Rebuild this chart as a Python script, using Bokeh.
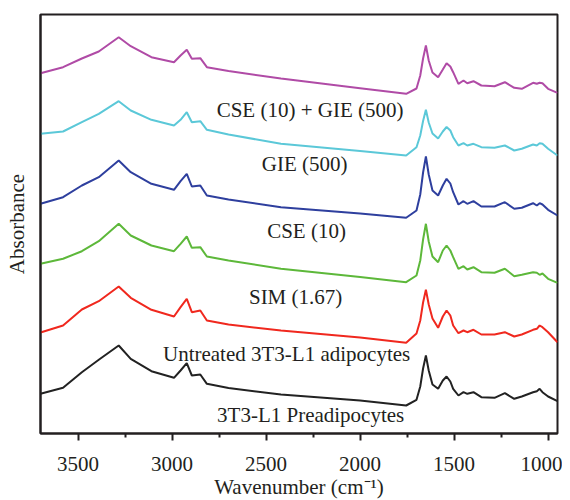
from bokeh.plotting import figure
from bokeh.models import Range1d, FixedTicker, ColumnDataSource
from bokeh.core.properties import value
from bokeh.embed import file_html
from bokeh.resources import INLINE

# Wavenumber grid (cm^-1)
wavenumber = [3700, 3580, 3480, 3390, 3284, 3220, 3110, 2990, 2955, 2922, 2895, 2850, 2815,
              2700, 2421, 2000, 1755, 1700, 1680, 1665, 1650, 1635, 1615, 1585, 1560, 1540,
              1520, 1505, 1477, 1450, 1430, 1397, 1355, 1285, 1230, 1180, 1140, 1080, 1060,
              1045, 1030, 1000, 950]

# Stacked absorbance traces (arbitrary units, offset)
cse_gie = [360.3, 366.3, 375, 382, 396.3, 387.3, 376.3, 371.3, 378, 383.7, 374.7, 375.3, 366.3,
           362.5, 355, 345.3, 339.7, 345, 358, 375, 388, 373, 361, 356.3, 364, 370.3,
           367, 361.3, 349.7, 353, 350.3, 352.3, 348, 347.3, 351.3, 345.7, 344.7, 350.7, 349.7,
           350.7, 350.3, 344.7, 340.7]
gie = [299.7, 302, 311.3, 319.7, 332.3, 323, 313.7, 308, 313.7, 321.3, 311.3, 312.3, 303.7,
       299, 289.7, 282.5, 278, 286.3, 298, 312.5, 323.7, 311, 300, 295, 302, 306.5,
       303, 296.3, 288, 290.3, 288, 289.7, 286.3, 285.7, 288, 283, 284.7, 289, 288,
       290.3, 289.7, 284.7, 278]
cse = [229.7, 236.3, 248, 256.3, 273, 261.3, 249.7, 243.7, 252.3, 259.7, 247, 248, 238,
       234, 226.3, 220, 215.7, 223, 239, 261, 277, 259, 243, 238, 248, 254.7,
       250, 241.3, 229, 232.3, 229.7, 232.3, 227, 227, 231.3, 224.7, 225.7, 230.3, 228,
       230.3, 229, 223.7, 218]
sim = [169.7, 174.7, 182.3, 192.3, 209.7, 198, 188, 182.3, 189.7, 197, 185.7, 186.3, 177,
       173, 164.7, 156.5, 151.3, 158, 173, 194, 209.7, 192, 177, 171.3, 183, 188,
       183, 176.3, 164.7, 167.3, 164, 166.3, 161.3, 160.7, 164.7, 157.3, 158.7, 161.3, 160.7,
       158.7, 160, 154.7, 150.7]
untreated = [101, 108, 124, 132.3, 147, 135.7, 123.7, 117, 126.3, 134.7, 121.3, 123, 113,
             109, 103, 96, 90.7, 100, 113, 131, 143.7, 129, 115, 105.7, 117, 123,
             118, 108, 100.3, 103, 101.3, 103.7, 99, 99, 101.3, 97, 99, 103.7, 104.7,
             108, 106.3, 101.3, 91.3]
preadipo = [39.7, 45.7, 61.3, 73.7, 88, 74.7, 62.3, 55.7, 63, 70.3, 58, 59, 49.7,
            45.5, 39, 33, 28, 33.7, 47, 65, 78, 63, 49, 44.7, 53, 57,
            52, 44.7, 38, 41.3, 39.7, 41.3, 36.3, 35.7, 40.3, 34.7, 37, 41.3, 42.3,
            44.7, 41.3, 37, 32.3]

labels = ["CSE (10) + GIE (500)", "GIE (500)", "CSE (10)", "SIM (1.67)",
          "Untreated 3T3-L1 adipocytes", "3T3-L1 Preadipocytes"]
x_ticks = [3500, 3000, 2500, 2000, 1500, 1000]

series = [cse_gie, gie, cse, sim, untreated, preadipo]
colors = ["#B04BA6", "#5BC8D8", "#2E3F9E", "#5DB83A", "#F0281E", "#222222"]
label_x = [2266, 2295, 2285, 2343, 2391, 2263]
label_y = [324, 270, 203, 137, 80, 19]

FONT = "Liberation Serif"
TXT = "#231f20"

p = figure(frame_width=517, frame_height=419, output_backend="svg", toolbar_location=None,
           x_range=Range1d(3700, 950), y_range=Range1d(0, 419),
           min_border_left=40, min_border_top=14, min_border_right=5, min_border_bottom=5)

for ys, c in zip(series, colors):
    p.line(wavenumber, ys, line_color=c, line_width=2)

src = ColumnDataSource(dict(x=label_x, y=label_y, t=labels))
p.text(x="x", y="y", text="t", source=src, text_align="center", text_baseline="middle",
       text_font=value(FONT), text_font_size="21px", text_color=TXT)

p.grid.visible = False
p.outline_line_color = "#231f20"
p.outline_line_width = 2
p.background_fill_color = "white"
p.border_fill_color = "white"

xa = p.xaxis[0]
xa.ticker = FixedTicker(ticks=x_ticks, minor_ticks=[3750, 3250, 2750, 2250, 1750, 1250, 750])
xa.axis_label = "Wavenumber (cm\u207b\u00b9)"
xa.axis_label_text_font = FONT
xa.axis_label_text_font_style = "normal"
xa.axis_label_text_font_size = "21px"
xa.axis_label_text_color = TXT
xa.axis_label_standoff = 1
xa.major_label_text_font = FONT
xa.major_label_text_font_size = "21px"
xa.major_label_text_color = TXT
xa.major_label_standoff = 16
xa.major_tick_out = 7
xa.major_tick_in = 0
xa.minor_tick_out = 4
xa.minor_tick_in = 0
xa.axis_line_width = 2
xa.axis_line_color = TXT
xa.major_tick_line_width = 2
xa.minor_tick_line_width = 2
xa.major_tick_line_color = TXT
xa.minor_tick_line_color = TXT

ya = p.yaxis[0]
ya.ticker = FixedTicker(ticks=[])
ya.axis_label = "Absorbance"
ya.axis_label_text_font = FONT
ya.axis_label_text_font_style = "normal"
ya.axis_label_text_font_size = "21px"
ya.axis_label_text_color = TXT
ya.axis_label_standoff = 12
ya.major_tick_out = 0
ya.minor_tick_out = 0
ya.axis_line_width = 2
ya.axis_line_color = TXT

open("out.html", "w").write(file_html(p, INLINE))
